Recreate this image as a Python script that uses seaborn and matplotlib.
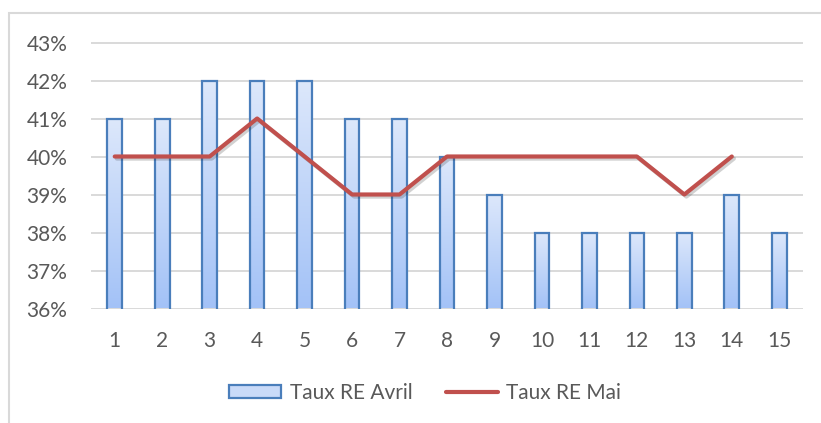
import numpy as np
import pandas as pd
import matplotlib
matplotlib.use("Agg")
import matplotlib.pyplot as plt
import matplotlib.patheffects as pe
from matplotlib.patches import Rectangle, Patch
from matplotlib.lines import Line2D
from matplotlib.colors import LinearSegmentedColormap
import seaborn as sns

# Daily rates (in %)
jours = list(range(1, 16))
taux_avril = [41, 41, 42, 42, 42, 41, 41, 40, 39, 38, 38, 38, 38, 39, 38]
taux_mai = [40, 40, 40, 41, 40, 39, 39, 40, 40, 40, 40, 40, 39, 40, np.nan]
y_ticks = [36, 37, 38, 39, 40, 41, 42, 43]

label_avril = "Taux RE Avril"
label_mai = "Taux RE Mai"

df = pd.DataFrame({"Jour": jours, label_avril: taux_avril, label_mai: taux_mai})

sns.set_theme(style="white")
plt.rcParams["font.family"] = ["Lato", "DejaVu Sans"]

TEXT = "#595959"
GRID = "#D9D9D9"
EDGE = "#4A7EBB"
RED = "#C0504D"
FS = 15

fig = plt.figure(figsize=(8.21, 4.23), dpi=100)
ax = fig.add_axes([91 / 821, 1 - 308.5 / 423, (803 - 91) / 821, (308.5 - 42.5) / 423])

sns.barplot(data=df, x="Jour", y=label_avril, width=0.31, color="#C9DAF8",
            edgecolor=EDGE, linewidth=1.6, ax=ax, zorder=3)

ymin, ymax = y_ticks[0], y_ticks[-1]

# vertical gradient fill inside each bar
grad_cmap = LinearSegmentedColormap.from_list("bargrad", ["#A3C2F7", "#DDE8FB"])
grad = np.linspace(0, 1, 256).reshape(-1, 1)
for bar in list(ax.patches):
    x0 = bar.get_x()
    w = bar.get_width()
    top = bar.get_height()
    bar.set_facecolor("none")
    im = ax.imshow(grad, cmap=grad_cmap, origin="lower", aspect="auto",
                   extent=(x0, x0 + w, ymin, top), zorder=2.5, interpolation="bilinear")
    im.set_clip_path(bar)

xpos = np.arange(len(jours))
sns.lineplot(x=xpos, y=taux_mai, ax=ax, color=RED, linewidth=3.0, zorder=4,
             path_effects=[pe.SimpleLineShadow(offset=(1.5, -1.5), alpha=0.2), pe.Normal()])

ax.set_xlim(-0.5, len(jours) - 0.5)
ax.set_ylim(ymin, ymax)
ax.set_yticks(y_ticks)
ax.set_yticklabels([f"{v}%" for v in y_ticks])
ax.set_xticks(xpos)
ax.set_xticklabels([str(j) for j in jours])
ax.set_xlabel("")
ax.set_ylabel("")

for s in ax.spines.values():
    s.set_visible(False)
ax.set_axisbelow(True)
ax.yaxis.grid(True, color=GRID, linewidth=1.4, zorder=0)
ax.xaxis.grid(False)
ax.tick_params(axis="both", length=0, labelsize=FS, colors=TEXT)
ax.tick_params(axis="y", pad=17)
ax.tick_params(axis="x", pad=16)

# legend below the plot area
handles = [Patch(facecolor="#C9DAF8", edgecolor=EDGE, linewidth=1.6),
           Line2D([0], [0], color=RED, linewidth=3.0)]
fig.legend(handles, [label_avril, label_mai], loc="center",
           bbox_to_anchor=(425 / 821, 1 - 393 / 423), bbox_transform=fig.transFigure,
           ncol=2, frameon=False, fontsize=FS, labelcolor=TEXT,
           handlelength=2.5, handleheight=0.6, handletextpad=0.4, columnspacing=1.6)

# chart outline
fig.patches.append(Rectangle((8.5 / 821, -0.1), 1.2, 1 - 13 / 423 + 0.1,
                             transform=fig.transFigure, facecolor="none",
                             edgecolor=GRID, linewidth=1.5))

fig.savefig("out.png", dpi=100)
